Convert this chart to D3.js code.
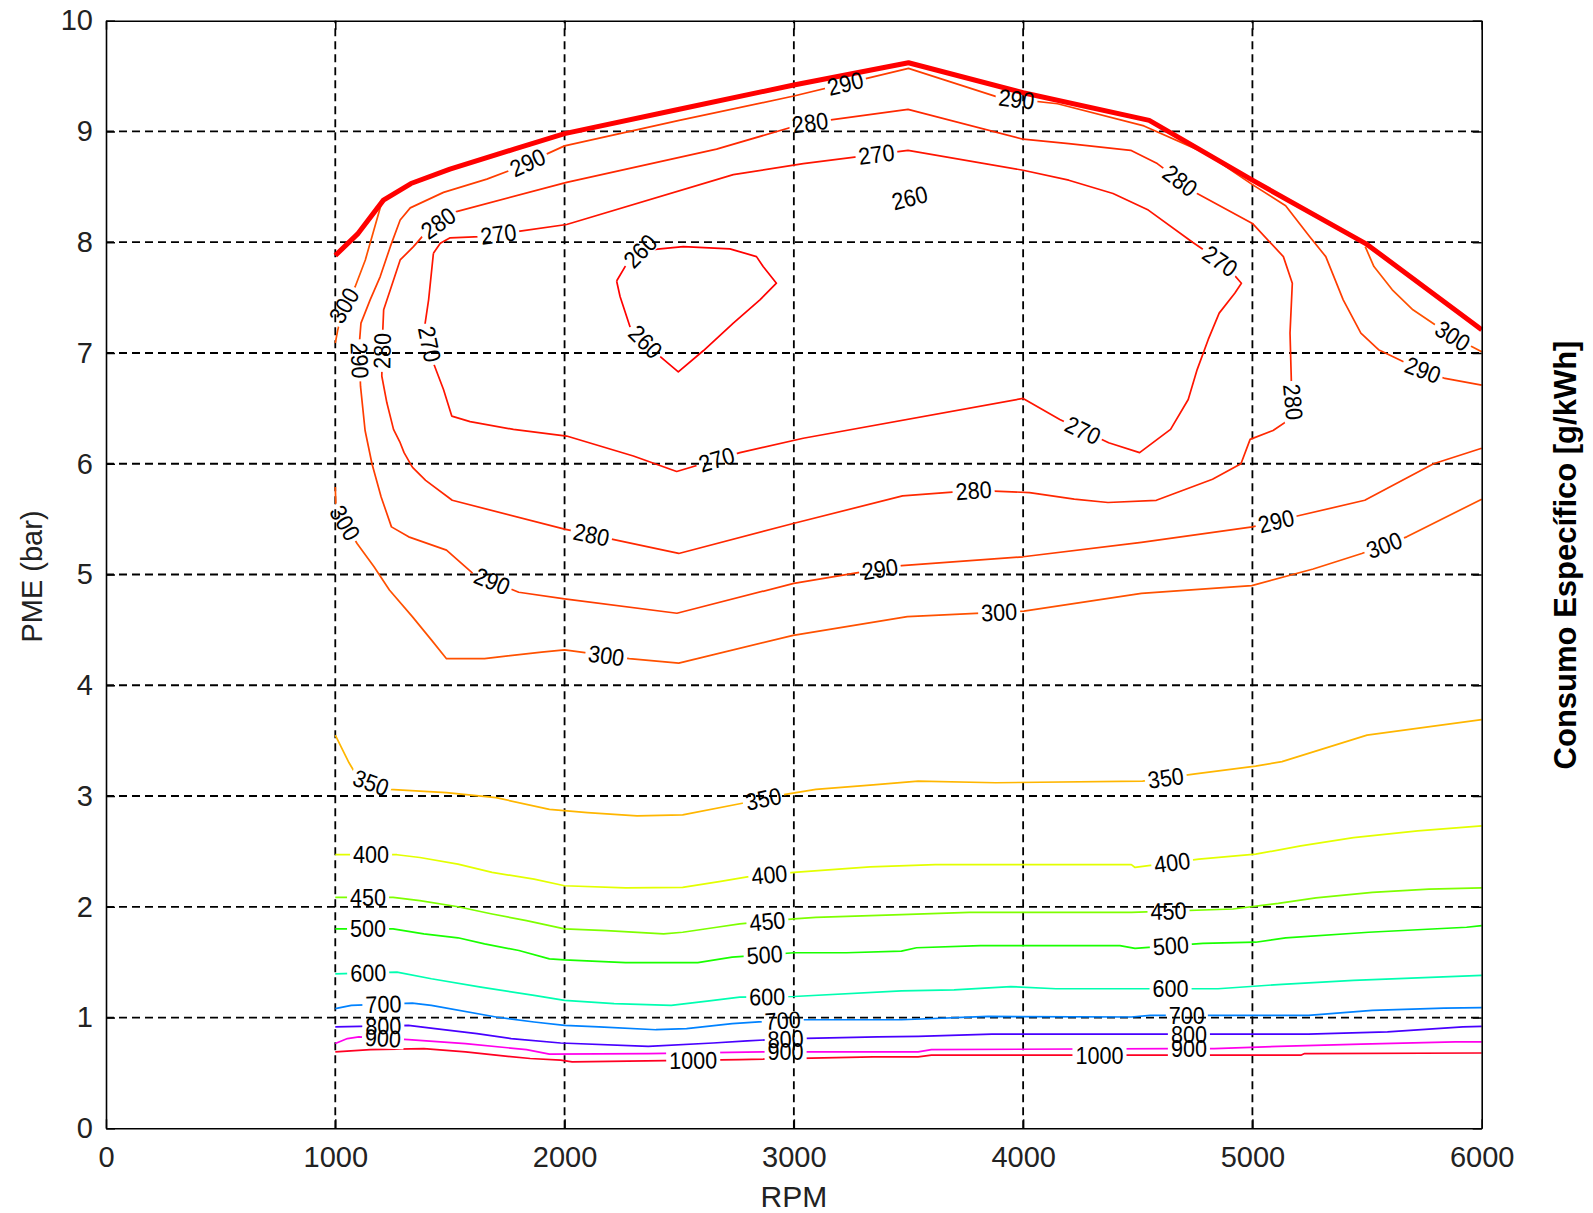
<!DOCTYPE html>
<html>
<head>
<meta charset="utf-8">
<script src="https://cdn.jsdelivr.net/npm/d3@7"></script>
<style>
  body { margin: 0; background: #fff; }
  svg { display: block; }
</style>
</head>
<body>
<svg id="chart" width="1593" height="1213"></svg>
<script>
// ---- axis ticks ----
const rpmTicks = [0, 1000, 2000, 3000, 4000, 5000, 6000];
const pmeTicks = [0, 1, 2, 3, 4, 5, 6, 7, 8, 9, 10];

// ---- contour levels, specific consumption [g/kWh] ----
const levels = [260, 270, 280, 290, 300, 350, 400, 450, 500, 600, 700, 800, 900, 1000];

// ---- full-load curve [rpm, bar] ----
const fullLoad = [[1000,7.88],[1100,8.08],[1210,8.38],[1330,8.53],[1500,8.66],[1780,8.84],[2000,8.98],
  [2500,9.2],[3000,9.42],[3500,9.62],[4000,9.35],[4550,9.1],[5000,8.56],[5500,7.98],[6000,7.21]];

// ---- iso-consumption lines [rpm, bar] ----
const c260 = [[2227,7.65],[2264,7.78],[2330,7.92],[2416,7.94],[2518,7.96],[2721,7.94],[2837,7.87],[2866,7.78],
  [2924,7.63],[2852,7.48],[2736,7.27],[2605,7.02],[2496,6.83],[2416,6.97],[2285,7.24],[2242,7.51],[2227,7.65]];

const c270 = [[1428,7.90],[1458,7.99],[1501,8.04],[1632,8.05],[1806,8.10],[2009,8.16],[2736,8.61],[3041,8.71],
  [3498,8.83],[4000,8.65],[4199,8.56],[4392,8.44],[4546,8.29],[4739,8.0],[4880,7.8],[4952,7.63],[4923,7.54],
  [4855,7.36],[4807,7.12],[4759,6.85],[4720,6.58],[4643,6.31],[4508,6.10],[4373,6.19],[4160,6.40],[4000,6.59],
  [3041,6.23],[2765,6.10],[2489,5.93],[2300,6.07],[2009,6.25],[1777,6.31],[1588,6.38],[1508,6.43],[1472,6.67],
  [1428,6.91],[1392,7.27],[1407,7.48],[1428,7.90]];

const c280 = [[1336,5.97],[1300,6.10],[1283,6.19],[1254,6.31],[1225,6.55],[1203,6.79],[1205,7.1],[1211,7.39],
  [1240,7.57],[1283,7.84],[1341,7.96],[1400,8.1],[1516,8.27],[2009,8.54],[2663,8.84],[3041,9.07],[3498,9.20],
  [4000,8.93],[4199,8.89],[4469,8.83],[4585,8.71],[4759,8.44],[5000,8.17],[5135,7.87],[5174,7.63],[5164,7.18],
  [5170,6.73],[5183,6.43],[5090,6.30],[4990,6.22],[4950,6.0],[4826,5.86],[4581,5.67],[4370,5.65],[4223,5.68],
  [4028,5.74],[3792,5.76],[3474,5.71],[2997,5.46],[2498,5.19],[2000,5.41],[1510,5.67],[1394,5.85],[1336,5.97]];

const c290 = [[6000,6.14],[5790,6.0],[5490,5.67],[5200,5.53],[5000,5.43],[4516,5.29],[4000,5.16],[3470,5.08],
  [3260,5.01],[3000,4.92],[2490,4.65],[2000,4.78],[1800,4.84],[1600,5.01],[1485,5.22],[1320,5.34],[1245,5.43],
  [1200,5.70],[1160,6.0],[1130,6.3],[1110,6.7],[1104,7.06],[1112,7.27],[1152,7.48],[1196,7.69],[1240,7.96],
  [1283,8.20],[1327,8.31],[1472,8.45],[1661,8.57],[1777,8.66],[2000,8.87],[2500,9.1],[3000,9.32],[3300,9.47],
  [3500,9.57],[3890,9.31],[4150,9.25],[4527,9.05],[4800,8.8],[5000,8.52],[5145,8.33],[5250,8.05],[5320,7.87],
  [5396,7.48],[5473,7.18],[5550,7.03],[5700,6.88],[5840,6.77],[6000,6.71]];

const c300Upper = [[1200,8.34],[1160,8.05],[1131,7.84],[1087,7.60],[1036,7.42],[1010,7.2],[1000,7.09]];
const c300Right = [[5492,7.96],[5530,7.78],[5610,7.57],[5700,7.39],[5800,7.25],[5900,7.12],[6000,7.01]];
const c300Lower = [[1000,5.79],[1003,5.6],[1095,5.28],[1169,5.07],[1236,4.86],[1336,4.62],[1419,4.41],
  [1485,4.24],[1651,4.24],[1900,4.30],[2000,4.32],[2282,4.24],[2498,4.20],[2997,4.45],[3495,4.62],[4003,4.67],
  [4516,4.83],[4997,4.90],[5265,5.05],[5477,5.19],[5673,5.34],[6000,5.68]];

const c350 = [[1000,3.55],[1060,3.3],[1100,3.16],[1236,3.06],[1485,3.03],[1701,2.985],[1934,2.88],[2100,2.85],
  [2316,2.82],[2515,2.83],[2764,2.93],[2963,3.015],[3096,3.06],[3346,3.10],[3542,3.135],[3880,3.12],[4521,3.135],
  [4751,3.20],[5014,3.27],[5129,3.31],[5500,3.55],[6000,3.69]];

const c400 = [[1000,2.47],[1269,2.47],[1369,2.445],[1535,2.385],[1684,2.31],[1867,2.25],[2000,2.19],[2266,2.17],
  [2515,2.175],[2681,2.23],[2797,2.27],[3000,2.31],[3332,2.36],[3617,2.38],[4472,2.38],[4488,2.355],[4767,2.43],
  [5014,2.475],[5211,2.55],[5441,2.625],[5721,2.685],[6000,2.73]];

const c450 = [[1000,2.085],[1252,2.085],[1369,2.055],[1535,2.0],[1684,1.935],[1834,1.875],[2000,1.80],[2183,1.785],
  [2432,1.755],[2515,1.77],[2664,1.815],[2764,1.845],[3000,1.89],[3096,1.905],[3469,1.93],[3765,1.95],[4472,1.95],
  [4915,1.98],[5113,2.03],[5277,2.08],[5523,2.13],[5770,2.16],[6000,2.17]];

const c500 = [[1000,1.80],[1252,1.80],[1386,1.755],[1535,1.72],[1651,1.665],[1801,1.605],[1934,1.53],[2000,1.52],
  [2266,1.495],[2581,1.495],[2731,1.545],[3000,1.585],[3229,1.585],[3469,1.60],[3535,1.63],[3814,1.65],[4422,1.65],
  [4488,1.625],[4784,1.67],[5014,1.68],[5145,1.72],[5507,1.77],[5934,1.815],[6000,1.83]];

const c600 = [[1000,1.395],[1269,1.41],[1419,1.35],[1635,1.275],[1867,1.20],[2000,1.155],[2216,1.125],[2465,1.11],
  [2631,1.15],[2764,1.185],[3000,1.19],[3469,1.24],[3699,1.25],[3946,1.28],[4143,1.26],[4850,1.26],[5129,1.30],
  [5441,1.335],[6000,1.38]];

const c700 = [[1000,1.08],[1070,1.11],[1336,1.13],[1419,1.11],[1701,1.005],[1867,0.96],[2000,0.93],[2150,0.915],
  [2399,0.89],[2532,0.90],[2731,0.945],[2847,0.96],[3000,0.98],[3469,0.98],[3847,1.01],[4472,1.005],[4554,1.02],
  [5244,1.02],[5523,1.065],[5836,1.085],[6000,1.09]];

const c800 = [[1000,0.915],[1319,0.93],[1435,0.90],[1618,0.855],[1767,0.81],[1983,0.77],[2365,0.74],[2648,0.77],
  [2797,0.79],[3000,0.81],[3365,0.825],[3542,0.83],[3864,0.85],[4652,0.85],[5244,0.85],[5589,0.87],[5918,0.915],
  [6000,0.92]];

const c900 = [[1000,0.765],[1053,0.81],[1103,0.825],[1319,0.80],[1568,0.765],[1834,0.71],[1934,0.67],[2365,0.675],
  [2864,0.69],[3046,0.69],[3542,0.69],[3600,0.71],[4652,0.72],[4833,0.72],[5113,0.74],[5474,0.76],[5885,0.78],
  [6000,0.78]];

const c1000 = [[1000,0.69],[1153,0.71],[1386,0.72],[1568,0.69],[1701,0.66],[1850,0.63],[1983,0.615],[2033,0.60],
  [2764,0.62],[3346,0.645],[3542,0.645],[3600,0.66],[5211,0.66],[5228,0.675],[6000,0.68]];

// ---- inline contour labels [level, rpm, bar] ----
const contourLabels = [
  [290,3217,9.50],[280,3070,9.09],[270,3358,8.83],[290,3970,9.27],[290,1843,8.70],[280,1453,8.16],
  [270,1710,8.09],[260,2322,7.96],[280,4679,8.54],[270,4856,7.82],[300,1037,7.43],[290,1068,6.93],
  [280,1201,7.02],[270,1391,7.07],[260,2366,7.13],[300,5875,7.16],[290,5742,6.84],[280,5188,6.56],
  [270,4258,6.29],[270,2663,6.04],[280,3784,5.75],[300,1037,5.46],[280,2118,5.37],[290,5100,5.51],
  [290,1688,4.96],[290,3372,5.09],[300,5565,5.32],[300,2184,4.30],[300,3895,4.68],
  [350,1156,3.12],[350,2862,3.03],[350,4621,3.18],
  [400,1156,2.48],[400,2893,2.29],[400,4648,2.43],
  [450,1143,2.08],[450,2884,1.88],[450,4634,1.97],
  [500,1143,1.82],[500,2871,1.61],[500,4643,1.68],
  [600,1143,1.44],[600,2884,1.19],[600,4643,1.28],
  [700,1209,1.17],[700,2951,0.99],[700,4714,1.03],
  [800,1209,0.96],[800,2964,0.83],[800,4723,0.84],
  [900,1209,0.85],[900,2964,0.73],[900,4723,0.72],
  [1000,2561,0.64],[1000,4333,0.64]
];
// label of a tiny 260 island inside the 270 loop
const islandLabel = [260, 3505, 8.40];

// ---- assemble ----
const contours = [
  {level: 260, points: c260}, {level: 270, points: c270}, {level: 280, points: c280},
  {level: 290, points: c290}, {level: 300, points: c300Upper}, {level: 300, points: c300Right},
  {level: 300, points: c300Lower}, {level: 350, points: c350}, {level: 400, points: c400},
  {level: 450, points: c450}, {level: 500, points: c500}, {level: 600, points: c600},
  {level: 700, points: c700}, {level: 800, points: c800}, {level: 900, points: c900},
  {level: 1000, points: c1000}
];

const W = 1593, H = 1213;
const plot = {left: 106, right: 1481.7, top: 20.7, bottom: 1128.3};

const x = d3.scaleLinear().domain([0, 6000]).range([plot.left, plot.right]);
const y = d3.scaleLinear().domain([0, 10]).range([plot.bottom, plot.top]);
// hsv-like colour map across the contour levels
const hue = d3.scaleLinear().domain([d3.min(levels), d3.max(levels)]).range([0, 352]);
const color = v => d3.hsl(hue(v), 1, 0.5).toString();

const svg = d3.select('#chart');
const defs = svg.append('defs');
const mask = defs.append('mask').attr('id', 'labelGaps')
  .attr('maskUnits', 'userSpaceOnUse').attr('x', 0).attr('y', 0).attr('width', W).attr('height', H);
mask.append('rect').attr('width', W).attr('height', H).attr('fill', 'white');

const tickFont = '"Liberation Sans", Arial, sans-serif';

// ---- grid ----
const grid = svg.append('g').attr('stroke', '#000').attr('stroke-width', 1.8)
  .attr('stroke-dasharray', '8,5');
grid.selectAll('line.v').data(rpmTicks.slice(1, -1)).join('line').attr('class', 'v')
  .attr('x1', d => x(d)).attr('x2', d => x(d)).attr('y1', plot.bottom).attr('y2', plot.top);
grid.selectAll('line.h').data(pmeTicks.slice(1, -1)).join('line').attr('class', 'h')
  .attr('y1', d => y(d)).attr('y2', d => y(d)).attr('x1', plot.left).attr('x2', plot.right);

// ---- contour lines ----
const line = d3.line().x(d => x(d[0])).y(d => y(d[1]));
svg.append('g').attr('mask', 'url(#labelGaps)').attr('fill', 'none')
  .selectAll('path').data(contours).join('path')
  .attr('d', d => line(d.points))
  .attr('stroke', d => color(d.level))
  .attr('stroke-width', 1.7)
  .attr('stroke-linejoin', 'round');

// ---- full-load curve ----
svg.append('path').attr('d', line(fullLoad)).attr('fill', 'none')
  .attr('stroke', '#ff0000').attr('stroke-width', 5).attr('stroke-linejoin', 'round');

// ---- contour labels: snapped onto their line, rotated along it ----
function snap(level, r, p) {
  const sx = x(r), sy = y(p);
  let best = null;
  contours.filter(c => c.level === level).forEach(c => {
    const s = c.points.map(d => [x(d[0]), y(d[1])]);
    for (let i = 0; i < s.length - 1; i++) {
      const [ax, ay] = s[i], [bx, by] = s[i + 1];
      const dx = bx - ax, dy = by - ay, L2 = dx * dx + dy * dy;
      let t = L2 ? ((sx - ax) * dx + (sy - ay) * dy) / L2 : 0;
      t = Math.max(0, Math.min(1, t));
      const qx = ax + t * dx, qy = ay + t * dy;
      const dd = (qx - sx) ** 2 + (qy - sy) ** 2;
      if (!best || dd < best.d) best = {d: dd, x: qx, y: qy, a: Math.atan2(dy, dx) * 180 / Math.PI};
    }
  });
  if (!best) return {x: sx, y: sy, a: 0};
  let a = best.a;
  if (a > 90) a -= 180;
  if (a < -90) a += 180;
  return {x: best.x, y: best.y, a};
}

const labelSize = 24;
const labelLayer = svg.append('g').attr('font-family', tickFont).attr('font-size', labelSize)
  .attr('fill', '#000');
const placed = contourLabels.map(([lev, r, p]) => Object.assign({level: lev}, snap(lev, r, p)));
placed.push({level: islandLabel[0], x: x(islandLabel[1]), y: y(islandLabel[2]), a: -14});

placed.forEach(d => {
  const g = labelLayer.append('g').attr('transform', `translate(${d.x},${d.y}) rotate(${d.a})`);
  const t = g.append('text').attr('text-anchor', 'middle').attr('dy', '0.35em')
    .attr('transform', 'scale(0.9,1)').text(d.level);
  const w = t.node().getComputedTextLength() * 0.9 + 6;
  mask.append('rect').attr('x', -w / 2).attr('y', -labelSize * 0.42).attr('width', w)
    .attr('height', labelSize * 0.84).attr('fill', 'black')
    .attr('transform', `translate(${d.x},${d.y}) rotate(${d.a})`);
});

// ---- axes (ticks pointing inward on all four sides) ----
function styleAxis(g) {
  g.select('.domain').attr('stroke', '#000').attr('stroke-width', 1.6);
  g.selectAll('.tick line').attr('stroke', '#000').attr('stroke-width', 1.5);
  g.selectAll('.tick text').attr('font-family', tickFont).attr('font-size', 29).attr('fill', '#222');
}
svg.append('g').attr('transform', `translate(0,${plot.bottom})`)
  .call(d3.axisBottom(x).tickValues(rpmTicks).tickFormat(d3.format('d'))
    .tickSizeInner(-9).tickSizeOuter(0).tickPadding(18))
  .call(styleAxis);
svg.append('g').attr('transform', `translate(0,${plot.top})`)
  .call(d3.axisTop(x).tickValues(rpmTicks).tickFormat('').tickSizeInner(-9).tickSizeOuter(0))
  .call(styleAxis);
svg.append('g').attr('transform', `translate(${plot.left},0)`)
  .call(d3.axisLeft(y).tickValues(pmeTicks).tickFormat(d3.format('d'))
    .tickSizeInner(-9).tickSizeOuter(0).tickPadding(13))
  .call(styleAxis);
svg.append('g').attr('transform', `translate(${plot.right},0)`)
  .call(d3.axisRight(y).tickValues(pmeTicks).tickFormat('').tickSizeInner(-9).tickSizeOuter(0))
  .call(styleAxis);

// ---- axis titles ----
svg.append('text').attr('x', x(3000)).attr('y', 1207).attr('text-anchor', 'middle')
  .attr('font-family', tickFont).attr('font-size', 30).attr('fill', '#222').text('RPM');
svg.append('text').attr('transform', `translate(42,${(plot.top + plot.bottom) / 2 + 2}) rotate(-90)`)
  .attr('text-anchor', 'middle').attr('font-family', tickFont).attr('font-size', 29)
  .attr('fill', '#222').text('PME (bar)');
svg.append('text').attr('transform', 'translate(1576,555) rotate(-90)')
  .attr('text-anchor', 'middle').attr('font-family', '"Liberation Sans", Arial, sans-serif')
  .attr('font-weight', 'bold').attr('font-size', 31).attr('fill', '#000')
  .text('Consumo Específico [g/kWh]');
</script>
</body>
</html>
